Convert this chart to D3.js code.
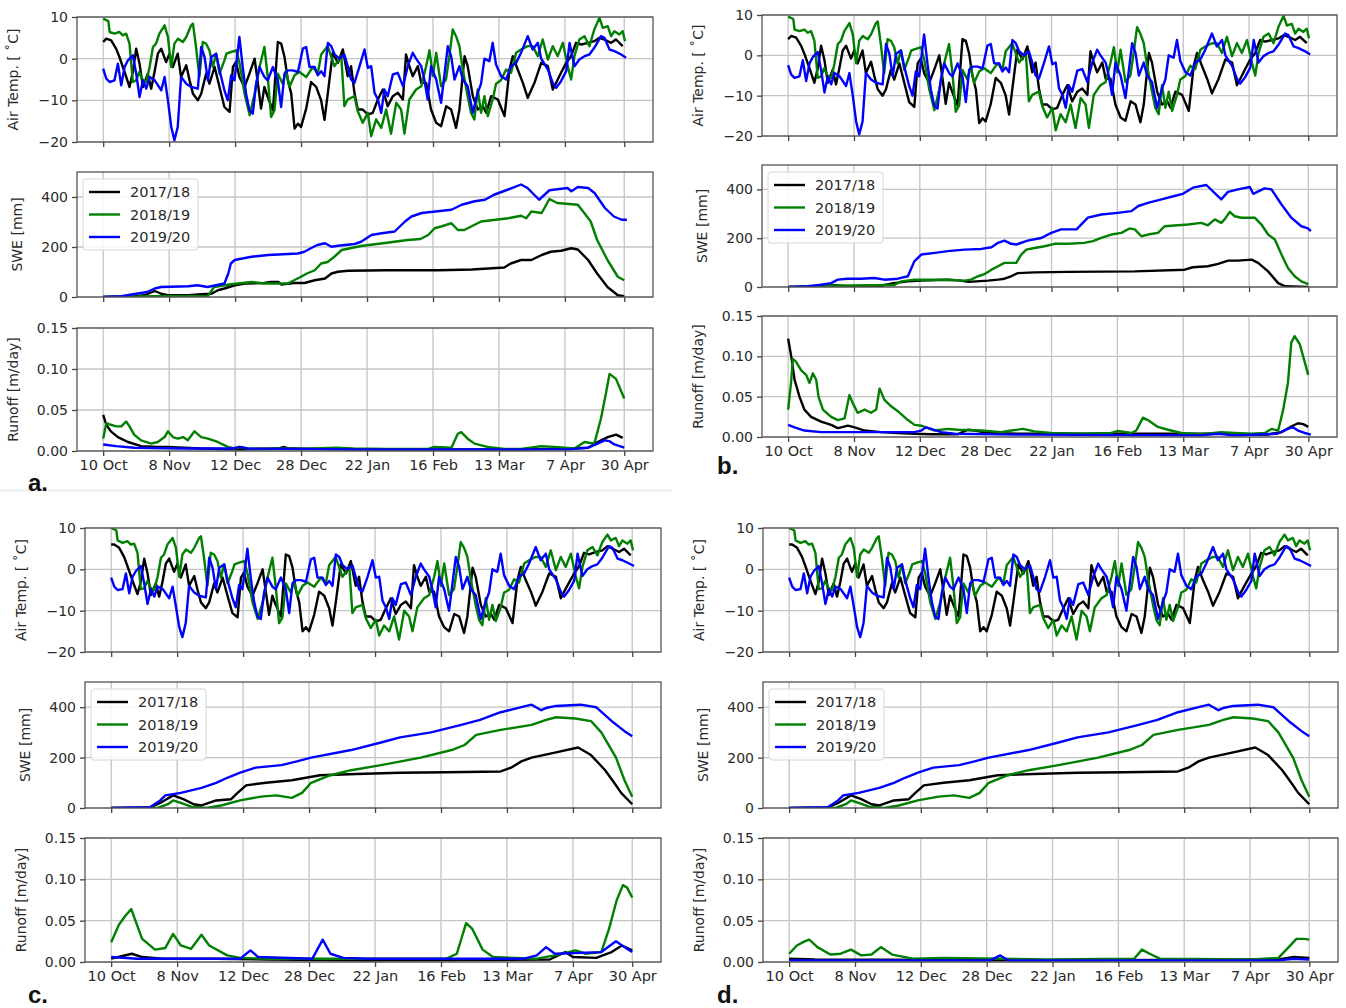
<!DOCTYPE html>
<html><head><meta charset="utf-8">
<script src="https://cdn.jsdelivr.net/npm/d3@7"></script>
<style>body{margin:0;background:#fff;} svg{display:block;font-family:"DejaVu Sans",sans-serif;}</style>
</head><body><svg id="chart" width="1346" height="1008"></svg>
<script>
// ---------------- DATA ----------------
const years = ["2017/18", "2018/19", "2019/20"];
const tickLabels = ["10 Oct", "8 Nov", "12 Dec", "28 Dec", "22 Jan", "16 Feb", "13 Mar", "7 Apr", "30 Apr"];
const tickDays = [0, 25.57, 51.14, 76.71, 102.29, 127.86, 153.43, 179, 202];
const tempTicks = [-20, -10, 0, 10];
const sweTicks = [0, 200, 400];
const runTicks = [0, 0.05, 0.10, 0.15];

// Air temperature [°C] as [day, value] — panels a & b
const tempAB_1718 = [[0,4],[1.2,4.8],[3.1,4.4],[5,2.4],[6.3,0.4],[8.3,-3.2],[10.2,-6.8],[11.5,-3.2],[12.8,2.4],[14.1,-1.2],[15.4,-6.8],[17.3,-3.6],[18.6,-7.2],[19.9,-3.2],[21.2,1.2],[22.5,2.4],[24.4,-0.8],[25.7,1.2],[27,-2],[28.9,1.2],[30.2,-4.4],[32.2,-1.6],[33.5,-5.2],[34.8,-8.4],[36.7,-10],[38,-8.4],[39.9,-3.6],[41.2,-6],[43.2,-2],[45.1,-6.8],[47,-11.6],[49,-12.8],[50.3,-2],[51.5,-0.8],[52.8,-4.4],[54.8,-6.8],[56.7,-3.6],[58.7,0],[60,-6],[61.2,-12],[62.5,-6.8],[63.8,-9.2],[65.8,-12.4],[67.7,4],[69,3.6],[70.3,0.4],[71.6,-5.2],[72.9,-8.4],[74.2,-16.8],[75.5,-15.6],[76.7,-16.4],[78.7,-12],[80.6,-5.6],[82.6,-6.8],[84.5,-10],[85.8,-14.7],[87.1,-8.2],[89,1.4],[91,-1],[92.9,2.2],[94.8,-4.2],[96.1,-1.8],[97.4,-8.2],[98.7,-12.2],[100.6,-12.2],[102.6,-13.4],[104.5,-13],[106.5,-9.8],[108.4,-7.4],[110.3,-11.4],[112.3,-9],[114.2,-8.2],[116.2,-9.8],[117.4,1],[118.7,-1.8],[120,-4.2],[122,-1.8],[123.3,-5.8],[125.2,-5.8],[127.1,-12.2],[129.1,-15.4],[131,-16.2],[133,-11.4],[134.9,-12.2],[136.8,-16.6],[138.1,-12.2],[140.1,0.6],[141.3,-1.8],[143.3,-9],[145.2,-12.2],[147.2,-11.4],[148.5,-13],[150.4,-9],[153,-9.8],[155.6,-13.8],[157.5,-2.6],[158.8,0.6],[160.7,-2.6],[162.7,-5.8],[164.6,-9.4],[167.2,-5.8],[169.8,-1],[172.4,-1.8],[174.3,-7.4],[175.6,-5.8],[177.5,-3.4],[179.5,-1],[181.4,0.6],[183.3,3.8],[185.3,3.4],[187.9,3.8],[190.4,4.2],[192.4,5],[194.3,4.6],[196.9,3.8],[198.8,4.6],[201.4,3]];
const tempAB_1819 = [[0,9.6],[2,9],[2.5,6.4],[4.4,6],[6.3,6.4],[7.6,5.6],[8.9,6],[10.2,3.6],[11.5,-5.6],[12.8,-5.2],[14,-3.2],[15.4,-5.2],[16.7,-5.6],[18,-2],[19.3,2.8],[20.5,3.6],[21.8,6],[23.8,8],[25.1,5.2],[26.4,-2],[27.6,3.6],[29,4.8],[30.9,4],[32.2,5.2],[34.1,8],[34.8,8.4],[36,2.8],[37.3,-4.4],[38.6,4],[39.9,3.6],[41.2,2],[42.5,-2],[43.8,1.2],[45.1,-3.6],[47,-0.4],[47.8,1.2],[49.6,1.6],[51.6,2],[52.9,-1.2],[54.8,-8.4],[56.8,-13.6],[58.7,-8.4],[60.6,-2],[62.5,2.8],[63.8,-4.4],[65.1,-14],[66.4,-12.4],[67.7,-3.6],[69.6,-6],[70.9,-2.8],[72.2,-6.8],[74.2,-4],[76.1,-3.2],[78.7,-4.4],[81.3,-2],[83.2,-3.6],[84.5,1],[87,3],[89.7,-1.8],[92.3,0.6],[93.5,-11.4],[94.8,-9.8],[97.4,-9],[98.7,-12.6],[100.6,-15.4],[102.6,-13],[103.9,-18.6],[105.8,-14.6],[107.8,-16.6],[109.7,-12.2],[111.6,-18],[113.6,-10.6],[115.5,-12.2],[116.8,-18],[118.7,-9.8],[121.3,-7.4],[123.3,-6.6],[125.2,-1.8],[126.5,2],[127.8,-4.2],[129.1,1.4],[131,-6.6],[132.9,-5],[134.2,0.6],[135.5,7],[136.8,5.4],[138.1,3],[139.4,-2.6],[141.3,-9],[142.6,-13],[143.9,-14.6],[145.2,-7.4],[146.5,-13],[147.8,-9],[149.1,-13.8],[151,-9.8],[152.3,-6],[154.2,-5.2],[156.2,-2.6],[158.1,-3.4],[160.1,1.4],[162,2.2],[164.6,3],[166.5,3],[168.5,0.6],[170.4,4.6],[172.4,-0.2],[174.3,3],[176.2,0.6],[178.2,3.8],[180.1,-1.8],[181.4,-5],[182.7,0.6],[184.6,4.6],[186.6,5.4],[188.5,3],[190.4,7],[192.4,9.8],[193.7,7.4],[195.6,7.8],[196.9,5.4],[198.2,6.6],[200.1,5.8],[201.4,6.6],[202.3,4.2]];
const tempAB_1920 = [[0,-2.4],[1.2,-4.8],[2.5,-5.6],[4.4,-5.2],[5.7,-1.2],[7,-6.4],[8.3,-2],[9.6,-0.4],[11.5,0.8],[12.8,-3.6],[14.1,-9.2],[15.4,-5.2],[16.7,-7.2],[18,-4.4],[20,-5.2],[22.5,-7.6],[23.8,-4.4],[25.1,-10],[26.4,-16.4],[27.6,-19.6],[28.9,-16.4],[30.2,-4.4],[32.2,-6],[34.1,-6.8],[36.7,-7.2],[38,2.8],[39.3,0.4],[40.6,-5.2],[41.9,0.4],[43.8,1.2],[45.1,-2.8],[47,-7.6],[48.3,-10],[49.6,-4],[50.9,-5.2],[52.8,5.2],[54.1,-2],[55.4,-8.4],[56.7,-12.4],[58,-13.2],[59.3,-6],[60.6,-2],[62.5,-4.4],[63.8,-5.2],[65.8,-2],[67.7,-5.2],[69,-11.6],[70.3,-3.6],[71.6,-2.8],[73.5,-2.8],[75.5,-3.2],[77.4,2.4],[78.7,2.8],[80,-2],[82,-2],[83.2,-4],[84.5,-3],[85.8,-4.2],[87.1,3.8],[88.4,3],[89.7,1],[91.6,0],[93.5,1],[94.8,-1.8],[96.1,-5],[97.4,-5.8],[99.4,-1.8],[101.3,2.2],[102.6,-2.2],[103.9,-1.8],[105.2,-8.2],[106.5,-9.8],[107.8,-13],[109,-7.4],[110.3,-9],[112.3,-3.8],[114.2,-3.4],[116.2,-6.6],[118.1,-1.8],[120,1.4],[121.3,0],[123.3,-1.8],[124.5,-5],[125.8,-9.8],[127.1,-1.8],[129.1,-5],[131,-10.6],[133.6,3],[134.9,0.6],[136.2,-5],[138.1,-1.8],[139.4,-5],[141.3,-6.6],[143.3,-13],[145.2,-8.2],[146.5,-6],[147.8,0],[149.7,-0.6],[151,3.8],[152.3,-1.4],[154.3,-4.2],[156.2,-5],[158.1,-1.8],[160.1,-1],[162,1.4],[164.6,5.4],[166.5,2.2],[168.5,3.8],[169.8,0],[172.4,-2.6],[174.3,-5.8],[175.6,-7],[177.5,-5.4],[179.5,-3],[180.8,3.8],[182.7,-1.8],[184.6,-0.2],[186.6,0.6],[188.5,1],[190.4,2.6],[193,5.4],[194.3,5],[196.3,2.2],[198.2,1.8],[200.8,1],[202.7,0.2]];

// Air temperature — panels c & d
const tempCD_1718 = [[0,6],[1.2,6],[3.1,5.2],[5,3],[6.3,0.8],[8.3,-2.8],[10.2,-6],[11.5,-3],[12.8,2.6],[14.1,-1],[15.4,-6.2],[17.3,-3.4],[18.6,-6.6],[19.9,-3],[21.2,1.4],[22.5,2.6],[24.4,-0.6],[25.7,1.4],[27,-2],[28.9,1.2],[30.2,-4],[32.2,-1.6],[33.5,-5],[34.8,-8],[36.7,-9.4],[38,-8],[39.9,-3.4],[41.2,-5.6],[43.2,-2],[45.1,-6.4],[47,-10.6],[49,-11.6],[50.3,-2],[51.5,-0.8],[52.8,-4.2],[54.8,-6.4],[56.7,-3.4],[58.7,0],[60,-5.6],[61.2,-11],[62.5,-6.4],[63.8,-8.6],[65.8,-11.4],[67.7,3.6],[69,3.2],[70.3,0.4],[71.6,-5],[72.9,-8],[74.2,-15],[75.5,-14],[76.7,-15],[78.7,-11],[80.6,-5.4],[82.6,-6.4],[84.5,-9.4],[85.8,-13.6],[87.1,-7.8],[89,1.2],[91,-1],[92.9,2],[94.8,-4],[96.1,-1.8],[97.4,-7.8],[98.7,-11.4],[100.6,-11.4],[102.6,-12.6],[104.5,-12.2],[106.5,-9.4],[108.4,-7],[110.3,-10.8],[112.3,-8.6],[114.2,-7.8],[116.2,-9.4],[117.4,1],[118.7,-1.8],[120,-4],[122,-1.8],[123.3,-5.4],[125.2,-5.4],[127.1,-11.4],[129.1,-14],[131,-15],[133,-10.8],[134.9,-11.4],[136.8,-15.4],[138.1,-11.4],[140.1,0.4],[141.3,-1.8],[143.3,-8.6],[145.2,-11.4],[147.2,-10.8],[148.5,-12.2],[150.4,-8.6],[153,-9.4],[155.6,-13],[157.5,-2.6],[158.8,0.6],[160.7,-2.6],[162.7,-5.4],[164.6,-8.8],[167.2,-5.4],[169.8,-1],[172.4,-1.8],[174.3,-7],[175.6,-5.4],[177.5,-3.2],[179.5,-1],[181.4,0.8],[183.3,4],[185.3,3.6],[187.9,4.2],[190.4,4.6],[192.4,5.6],[194.3,5],[196.9,4.2],[198.8,5],[201.4,3.4]];
const tempCD_1819 = [[0,10],[2,9.4],[2.5,7],[4.4,6.4],[6.3,6.8],[7.6,6],[8.9,6.2],[10.2,4],[11.5,-4.8],[12.8,-4.6],[14,-2.8],[15.4,-4.6],[16.7,-5],[18,-1.8],[19.3,2.8],[20.5,3.6],[21.8,6],[23.8,7.6],[25.1,5.2],[26.4,-1.8],[27.6,3.6],[29,4.8],[30.9,4],[32.2,5.2],[34.1,7.6],[34.8,8],[36,2.8],[37.3,-4],[38.6,4],[39.9,3.6],[41.2,2],[42.5,-2],[43.8,1.2],[45.1,-3.4],[47,-0.4],[47.8,1.2],[49.6,1.6],[51.6,2],[52.9,-1.2],[54.8,-8],[56.8,-12],[58.7,-8],[60.6,-2],[62.5,2.8],[63.8,-4.2],[65.1,-13],[66.4,-11.6],[67.7,-3.4],[69.6,-5.6],[70.9,-2.8],[72.2,-6.4],[74.2,-4],[76.1,-3.2],[78.7,-4.2],[81.3,-2],[83.2,-3.4],[84.5,1],[87,3],[89.7,-1.8],[92.3,0.6],[93.5,-10.6],[94.8,-9.2],[97.4,-8.6],[98.7,-11.8],[100.6,-14.2],[102.6,-12.2],[103.9,-16],[105.8,-13.6],[107.8,-15],[109.7,-11.4],[111.6,-17],[113.6,-10],[115.5,-11.4],[116.8,-15],[118.7,-9.2],[121.3,-7],[123.3,-6.2],[125.2,-1.8],[126.5,2],[127.8,-4],[129.1,1.4],[131,-6.2],[132.9,-4.8],[134.2,0.6],[135.5,6.6],[136.8,5.2],[138.1,3],[139.4,-2.4],[141.3,-8.6],[142.6,-12.2],[143.9,-13.5],[145.2,-7],[146.5,-12.2],[147.8,-8.6],[149.1,-12.5],[151,-9.2],[152.3,-5.6],[154.2,-5],[156.2,-2.4],[158.1,-3.2],[160.1,1.4],[162,2.2],[164.6,3],[166.5,3],[168.5,0.6],[170.4,4.6],[172.4,-0.2],[174.3,3],[176.2,0.6],[178.2,3.8],[180.1,-1.6],[181.4,-4.6],[182.7,0.6],[184.6,4.6],[186.6,5.4],[188.5,3.4],[190.4,6.6],[192.4,8.4],[193.7,7],[195.6,7.6],[196.9,5.6],[198.2,7],[200.1,6.2],[201.4,7],[202.3,4.6]];
const tempCD_1920 = [[0,-2],[1.2,-4.2],[2.5,-5],[4.4,-4.8],[5.7,-1],[7,-5.8],[8.3,-1.8],[9.6,-0.4],[11.5,0.8],[12.8,-3.4],[14.1,-8.4],[15.4,-4.8],[16.7,-6.6],[18,-4.2],[20,-4.8],[22.5,-7],[23.8,-4.2],[25.1,-9],[26.4,-14],[27.6,-16.4],[28.9,-13],[30.2,-4],[32.2,-5.6],[34.1,-6.4],[36.7,-6.8],[38,2.8],[39.3,0.4],[40.6,-4.8],[41.9,0.4],[43.8,1.2],[45.1,-2.6],[47,-7],[48.3,-9.2],[49.6,-3.8],[50.9,-4.8],[52.8,5],[54.1,-2],[55.4,-7.8],[56.7,-11.4],[58,-12],[59.3,-5.6],[60.6,-2],[62.5,-4.2],[63.8,-4.8],[65.8,-2],[67.7,-4.8],[69,-10.6],[70.3,-3.4],[71.6,-2.6],[73.5,-2.6],[75.5,-3],[77.4,2.4],[78.7,2.8],[80,-2],[82,-2],[83.2,-3.8],[84.5,-2.8],[85.8,-4],[87.1,3.6],[88.4,3],[89.7,1],[91.6,0],[93.5,1],[94.8,-1.8],[96.1,-4.8],[97.4,-5.4],[99.4,-1.8],[101.3,2.2],[102.6,-2],[103.9,-1.8],[105.2,-7.6],[106.5,-9.2],[107.8,-12],[109,-7],[110.3,-8.6],[112.3,-3.6],[114.2,-3.2],[116.2,-6.2],[118.1,-1.8],[120,1.4],[121.3,0],[123.3,-1.8],[124.5,-4.8],[125.8,-9.2],[127.1,-1.8],[129.1,-4.8],[131,-10],[133.6,3],[134.9,0.6],[136.2,-4.8],[138.1,-1.8],[139.4,-4.8],[141.3,-6.2],[143.3,-12],[145.2,-7.8],[146.5,-5.6],[147.8,0],[149.7,-0.6],[151,3.8],[152.3,-1.4],[154.3,-4],[156.2,-4.8],[158.1,-1.8],[160.1,-1],[162,1.4],[164.6,5.4],[166.5,2.2],[168.5,3.8],[169.8,0],[172.4,-2.4],[174.3,-5.4],[175.6,-6.6],[177.5,-5],[179.5,-2.8],[180.8,3.8],[182.7,-1.6],[184.6,0],[186.6,0.8],[188.5,1.2],[190.4,2.8],[193,5.6],[194.3,5.2],[196.3,2.6],[198.2,2.2],[200.8,1.4],[202.7,0.8]];

// SWE [mm] as [day, value]
const sweA_1718 = [[0,0],[12,2],[16,7],[20,24],[22.5,13],[25,7],[33,7],[38,11],[42,13],[44.5,27],[47,34],[51,47],[55,54],[62.5,56],[65,60],[68,60],[69,50],[74,56],[78,56],[82,67],[86,74],[88.5,94],[91,101],[95,105],[110,107],[130,107],[143,110],[155.5,118],[158,134],[162,148],[166,148],[170,168],[173.5,181],[177.5,185],[181.5,195],[184,190],[188,148],[191.5,94],[195.5,40],[199.5,7],[202,3]];
const sweA_1819 = [[0,0],[20,3],[40.5,3],[43,40],[49.5,51],[57.5,60],[62.5,54],[71.5,54],[74,67],[76.5,80],[79,94],[82,107],[84.5,134],[87,140],[89.5,160],[92.5,188],[100,204],[110,217],[118,228],[123,232],[126,248],[128.5,275],[131,282],[135,295],[137.5,268],[140,268],[146.5,302],[157,315],[162,325],[164,315],[166,342],[170,336],[173,392],[176,376],[184,369],[186.5,336],[189,302],[191.5,228],[195.5,148],[199.5,81],[202,67]];
const sweA_1920 = [[0,0],[7,3],[11,10],[17,20],[20,34],[22.5,40],[33,43],[36.5,47],[40.5,40],[47,54],[48.5,94],[49.5,134],[51,148],[57.5,161],[64,168],[75.5,174],[78,181],[80.5,195],[83,208],[86,215],[88.5,201],[91,205],[97.5,212],[100,221],[104,248],[108,255],[113,262],[117,302],[119.5,322],[123.5,336],[135,349],[139,369],[144,383],[148,389],[151.5,409],[157,430],[162,450],[164.5,436],[169,389],[173,427],[180,436],[181.5,423],[184,440],[188,436],[190.5,416],[194.5,356],[198,322],[201,309],[203,309]];

const sweB_1718 = [[0,0],[10,0],[18,7],[23,3],[36,5],[41,16],[46.5,23],[51.7,26],[62,30],[67,26],[70,21],[77.6,26],[81.5,30],[84,34],[86.6,44],[89.2,57],[95.7,60],[108.7,62],[134.6,64],[154,71],[157.2,81],[163,85],[167,95],[170.8,108],[174.7,108],[180,112],[182.5,99],[186.4,64],[190.3,16],[193,3],[202,0]];
const sweB_1819 = [[0,0],[17,5],[41,8],[44,23],[49,30],[62,30],[68.5,26],[71,30],[73.7,44],[76.3,53],[79,71],[81.5,85],[84,99],[88.6,99],[90.5,133],[92.5,153],[95.7,160],[99.6,167],[103.5,177],[108.7,177],[115,181],[118.4,188],[121.6,201],[125.5,215],[129.4,222],[132.6,240],[134.6,236],[137.2,208],[139.7,215],[143.6,222],[146.2,249],[150,252],[155.3,256],[160.5,263],[163,253],[165.7,277],[168.2,263],[169.5,277],[171.5,308],[173.4,290],[176,284],[181.2,284],[183.8,256],[186.4,215],[189,195],[191.6,133],[194.1,78],[196.7,44],[199.3,23],[202,12]];
const sweB_1920 = [[0,0],[7.6,3],[12.8,9],[16.7,16],[19.3,30],[23,34],[28.4,34],[33.5,37],[37.4,30],[42.6,34],[46.5,44],[49,105],[51.7,133],[57,140],[62,147],[68.5,153],[75,156],[79,163],[81.5,181],[84,190],[86.6,177],[88.6,174],[93,190],[98.3,201],[102.2,222],[106,236],[112,236],[116.4,284],[121.6,297],[128,304],[133.3,311],[136,332],[139.7,345],[145,359],[150,373],[153.3,382],[157.2,407],[162.4,418],[168.2,359],[170.8,390],[174.7,400],[179.3,410],[180.6,382],[185,404],[187.7,400],[191.6,338],[195.4,284],[199.3,249],[201.9,240],[203,229]];

const sweC_1718 = [[0,0],[15,2],[19,20],[24,50],[28,35],[32,15],[35,10],[40.7,30],[46.5,35],[49,60],[52.3,90],[60,100],[70,110],[81,130],[95,135],[112,140],[130,142],[151,145],[155,160],[159,185],[163,200],[172,220],[181,240],[186,210],[191.5,150],[195,100],[197.7,60],[202,15]];
const sweC_1819 = [[0,0],[18,0],[22,15],[24,30],[27,20],[31,5],[37,0],[42.6,10],[50,30],[58,45],[64,50],[70,40],[74,60],[77.5,100],[85,130],[93,150],[104.6,170],[120,200],[132,230],[137,250],[141.5,290],[151,310],[163,330],[168.6,350],[172.5,360],[180,355],[186,345],[190,300],[195.7,200],[199,110],[202,45]];
const sweC_1920 = [[0,0],[15,3],[19,30],[21,50],[27,60],[35,80],[40.7,100],[45,120],[50,140],[56,160],[66,170],[72,185],[77.5,200],[93,230],[104.6,260],[112,280],[124,300],[135.7,330],[143,350],[151,380],[159,400],[163,410],[166.7,388],[169,398],[172.5,405],[182,410],[188,400],[194.6,340],[199,305],[202,285]];

// Runoff [m/day] as [day, value]
const runA_1718 = [[0,0.044],[1.2,0.032],[3,0.024],[5.7,0.017],[9.6,0.011],[14.7,0.006],[21,0.005],[25,0.005],[31.5,0.004],[38,0.003],[51,0.002],[68,0.003],[70,0.005],[72,0.003],[100,0.002],[160,0.002],[180,0.003],[188,0.004],[191.7,0.011],[195.6,0.017],[198.8,0.02],[201.4,0.016]];
const runA_1819 = [[0,0.015],[1.2,0.034],[3,0.032],[5,0.03],[7,0.03],[8.9,0.036],[10.2,0.03],[12,0.02],[14.7,0.013],[18.6,0.009],[21.2,0.011],[23.8,0.017],[25.1,0.024],[27,0.017],[29,0.015],[31,0.017],[32.8,0.013],[35.4,0.024],[38,0.017],[40.6,0.015],[44.4,0.011],[48.3,0.005],[50.9,0.003],[52.8,0.005],[56,0.003],[63,0.0025],[70,0.003],[77,0.0025],[90,0.004],[97,0.003],[110,0.0025],[126,0.0025],[128.4,0.005],[135,0.004],[137.5,0.021],[138.8,0.023],[141.3,0.015],[144,0.009],[149,0.005],[155.6,0.0025],[162,0.0025],[169.8,0.006],[175,0.005],[182.7,0.003],[186.6,0.011],[190.4,0.009],[193,0.04],[195,0.072],[196.3,0.094],[198.8,0.088],[202,0.064]];
const runA_1920 = [[0,0.008],[5,0.006],[12,0.004],[30,0.003],[50,0.003],[53,0.005],[56,0.003],[100,0.002],[180,0.002],[188,0.004],[191.7,0.009],[194.3,0.013],[196.3,0.012],[198.2,0.008],[202,0.004]];

const runB_1718 = [[0,0.122],[1.2,0.1],[2.5,0.071],[4.4,0.05],[6.3,0.034],[8.9,0.025],[12.8,0.019],[16.7,0.015],[19.3,0.011],[20.6,0.012],[23.2,0.014],[25.8,0.012],[29.7,0.008],[36,0.006],[42.6,0.005],[49,0.004],[55.5,0.0035],[66,0.0035],[69.8,0.009],[72.4,0.008],[78,0.005],[90,0.004],[165,0.004],[168,0.005],[173,0.003],[186,0.003],[191.6,0.006],[195.4,0.013],[198,0.017],[200,0.016],[202,0.0125]];
const runB_1819 = [[0,0.034],[1.2,0.07],[1.8,0.097],[3.1,0.093],[5,0.083],[7,0.077],[8.3,0.067],[9.6,0.079],[10.9,0.071],[11.8,0.05],[13.5,0.034],[16.7,0.025],[19.3,0.021],[21.9,0.023],[23.8,0.052],[25.1,0.042],[27,0.03],[29.7,0.034],[32.2,0.03],[34.2,0.034],[35.5,0.06],[37.4,0.046],[40,0.038],[42.6,0.032],[46.5,0.021],[49.1,0.015],[51.7,0.014],[54.3,0.011],[56.9,0.008],[62,0.01],[65.9,0.009],[75,0.008],[82.75,0.006],[86.6,0.008],[91.2,0.01],[95.7,0.007],[102.2,0.005],[115,0.004],[125.5,0.005],[128.1,0.0075],[133.3,0.005],[135.2,0.008],[137.8,0.024],[139.7,0.021],[143.6,0.0125],[147.5,0.009],[152.7,0.005],[160.5,0.0035],[168.2,0.006],[173.4,0.005],[179.9,0.004],[185.1,0.005],[187.7,0.01],[190.3,0.008],[192.2,0.033],[194.1,0.067],[195.4,0.117],[196.7,0.125],[198.7,0.115],[200,0.1],[202,0.077]];
const runB_1920 = [[0,0.015],[2.5,0.012],[6.3,0.008],[12.8,0.006],[49,0.006],[51.7,0.008],[53.6,0.012],[55.5,0.01],[59.4,0.006],[64.6,0.004],[88,0.003],[160,0.002],[167,0.004],[173,0.002],[190,0.004],[194,0.01],[196,0.012],[198,0.008],[200.6,0.005],[203,0.003]];

const runC_1718 = [[0,0.004],[4,0.007],[8,0.01],[12,0.006],[20,0.004],[40,0.004],[60,0.003],[100,0.002],[170,0.003],[176,0.012],[179,0.006],[188,0.005],[194,0.012],[198,0.02],[202,0.014]];
const runC_1819 = [[0,0.024],[3,0.045],[5.5,0.056],[7.8,0.064],[10,0.045],[12,0.028],[17,0.015],[21,0.017],[24,0.034],[27,0.02],[31,0.016],[35,0.033],[38,0.02],[45,0.008],[50,0.005],[60,0.004],[80,0.004],[130,0.004],[134,0.01],[137.6,0.047],[140,0.04],[144,0.015],[148,0.006],[165,0.004],[172,0.008],[180,0.014],[184,0.01],[190,0.012],[193,0.04],[196,0.075],[198.4,0.093],[200,0.09],[202,0.078]];
const runC_1920 = [[0,0.006],[10,0.004],[30,0.004],[50,0.004],[54,0.014],[57,0.006],[78,0.004],[82,0.027],[85,0.01],[90,0.005],[100,0.004],[160,0.004],[165,0.008],[168.6,0.018],[172,0.01],[190,0.012],[195.7,0.025],[199,0.018],[202,0.012]];

const runD_1718 = [[0,0.004],[10,0.003],[100,0.002],[190,0.003],[196,0.006],[202,0.005]];
const runD_1819 = [[0,0.01],[3,0.02],[6,0.025],[7.8,0.027],[11,0.018],[16,0.009],[20,0.01],[24,0.015],[28,0.008],[32,0.009],[35.6,0.018],[40,0.009],[48,0.004],[60,0.005],[100,0.003],[134,0.004],[137,0.015],[140,0.01],[144,0.004],[180,0.003],[190,0.005],[194,0.018],[197,0.028],[200,0.028],[202,0.027]];
const runD_1920 = [[0,0.002],[78,0.002],[82,0.008],[85,0.002],[100,0.002],[190,0.002],[196,0.004],[202,0.003]];

// ---------------- LAYOUT / STYLE ----------------
const colors = ["#000000", "#007f00", "#0000ff"];
const xDomain = [-10.15, 213.15];
const panels = [
  {label: "a.", x0: 77, x1: 653, temp: [17, 142], swe: [172, 297], run: [328, 451], lab: [28, 491],
   T: [tempAB_1718, tempAB_1819, tempAB_1920], S: [sweA_1718, sweA_1819, sweA_1920], R: [runA_1718, runA_1819, runA_1920]},
  {label: "b.", x0: 762, x1: 1337, temp: [15, 136], swe: [165, 287], run: [316, 437], lab: [717, 474],
   T: [tempAB_1718, tempAB_1819, tempAB_1920], S: [sweB_1718, sweB_1819, sweB_1920], R: [runB_1718, runB_1819, runB_1920]},
  {label: "c.", x0: 85, x1: 661, temp: [528, 652], swe: [682, 808], run: [838, 962], lab: [28, 1003],
   T: [tempCD_1718, tempCD_1819, tempCD_1920], S: [sweC_1718, sweC_1819, sweC_1920], R: [runC_1718, runC_1819, runC_1920]},
  {label: "d.", x0: 763, x1: 1338, temp: [528, 652], swe: [682, 808], run: [838, 962], lab: [717, 1003],
   T: [tempCD_1718, tempCD_1819, tempCD_1920], S: [sweC_1718, sweC_1819, sweC_1920], R: [runD_1718, runD_1819, runD_1920]}
];

const svg = d3.select("#chart");
svg.append("line").attr("x1", 0).attr("x2", 672).attr("y1", 490.5).attr("y2", 490.5)
  .attr("stroke", "#ececec").attr("stroke-width", 2);

let clipId = 0;
function subplot(p, yr, domain, ticks, fmt, seriesList, showX, ylabel, ylabOff, legend) {
  const [y0, y1] = yr;
  const x = d3.scaleLinear().domain(xDomain).range([p.x0, p.x1]);
  const y = d3.scaleLinear().domain(domain).range([y1, y0]);
  const g = svg.append("g");
  g.append("g").selectAll("line").data(tickDays).join("line")
    .attr("x1", d => x(d)).attr("x2", d => x(d)).attr("y1", y0).attr("y2", y1)
    .attr("stroke", "#c4c4c4").attr("stroke-width", 1.3);
  g.append("g").selectAll("line").data(ticks).join("line")
    .attr("x1", p.x0).attr("x2", p.x1).attr("y1", d => y(d)).attr("y2", d => y(d))
    .attr("stroke", "#c4c4c4").attr("stroke-width", 1.3);
  const cid = "clip" + (clipId++);
  svg.append("clipPath").attr("id", cid).append("rect")
    .attr("x", p.x0).attr("y", y0).attr("width", p.x1 - p.x0).attr("height", y1 - y0);
  const line = d3.line().x(d => x(d[0])).y(d => y(d[1]));
  const lg = g.append("g").attr("clip-path", `url(#${cid})`);
  seriesList.forEach((s, i) => {
    lg.append("path").datum(s).attr("d", line).attr("fill", "none")
      .attr("stroke", colors[i]).attr("stroke-width", 2.4).attr("stroke-linejoin", "round");
  });
  g.append("rect").attr("x", p.x0).attr("y", y0).attr("width", p.x1 - p.x0).attr("height", y1 - y0)
    .attr("fill", "none").attr("stroke", "#555").attr("stroke-width", 1.3);
  const ya = d3.axisLeft(y).tickValues(ticks).tickFormat(fmt).tickSize(5).tickPadding(4);
  const yg = g.append("g").attr("transform", `translate(${p.x0},0)`).call(ya);
  yg.select(".domain").remove();
  yg.selectAll("line").attr("stroke", "#444").attr("stroke-width", 1.3);
  yg.selectAll("text").attr("font-size", 14).attr("fill", "#2a2a2a").attr("font-family", "DejaVu Sans");
  const xa = d3.axisBottom(x).tickValues(tickDays).tickFormat((d, i) => showX ? tickLabels[i] : "").tickSize(5).tickPadding(4);
  const xg = g.append("g").attr("transform", `translate(0,${y1})`).call(xa);
  xg.select(".domain").remove();
  xg.selectAll("line").attr("stroke", "#444").attr("stroke-width", 1.3);
  xg.selectAll("text").attr("font-size", 14.5).attr("fill", "#2a2a2a").attr("font-family", "DejaVu Sans");
  g.append("text").attr("transform", `translate(${p.x0 - ylabOff},${(y0 + y1) / 2}) rotate(-90)`)
    .attr("text-anchor", "middle").attr("font-size", 14).attr("fill", "#2a2a2a").text(ylabel);
  if (legend) {
    const lx = p.x0 + 6, ly = y0 + 7;
    const lgd = g.append("g");
    lgd.append("rect").attr("x", lx).attr("y", ly).attr("width", 115).attr("height", 71).attr("rx", 3)
      .attr("fill", "#fff").attr("fill-opacity", 0.85).attr("stroke", "#d6d6d6").attr("stroke-width", 1);
    years.forEach((yrName, i) => {
      const cy = ly + 13 + i * 22.5;
      lgd.append("line").attr("x1", lx + 6).attr("x2", lx + 37).attr("y1", cy).attr("y2", cy)
        .attr("stroke", colors[i]).attr("stroke-width", 2.4);
      lgd.append("text").attr("x", lx + 47).attr("y", cy).attr("dy", "0.35em").attr("font-size", 14.5)
        .attr("fill", "#2a2a2a").text(yrName);
    });
  }
}

const fmtTemp = d => d < 0 ? "\u2212" + Math.abs(d) : String(d);
const fmtSwe = d => String(d);
const fmtRun = d3.format(".2f");

panels.forEach(p => {
  subplot(p, p.temp, [-20, 10], tempTicks, fmtTemp, p.T, false, "Air Temp. [ \u02DAC]", 59, false);
  subplot(p, p.swe, [0, 500], sweTicks, fmtSwe, p.S, false, "SWE [mm]", 55, true);
  subplot(p, p.run, [0, 0.15], runTicks, fmtRun, p.R, true, "Runoff [m/day]", 59, false);
  svg.append("text").attr("x", p.lab[0]).attr("y", p.lab[1]).attr("font-size", 24).attr("font-weight", "bold")
    .attr("font-family", "Liberation Sans, Arial, sans-serif").attr("fill", "#111").text(p.label);
});
</script></body></html>
